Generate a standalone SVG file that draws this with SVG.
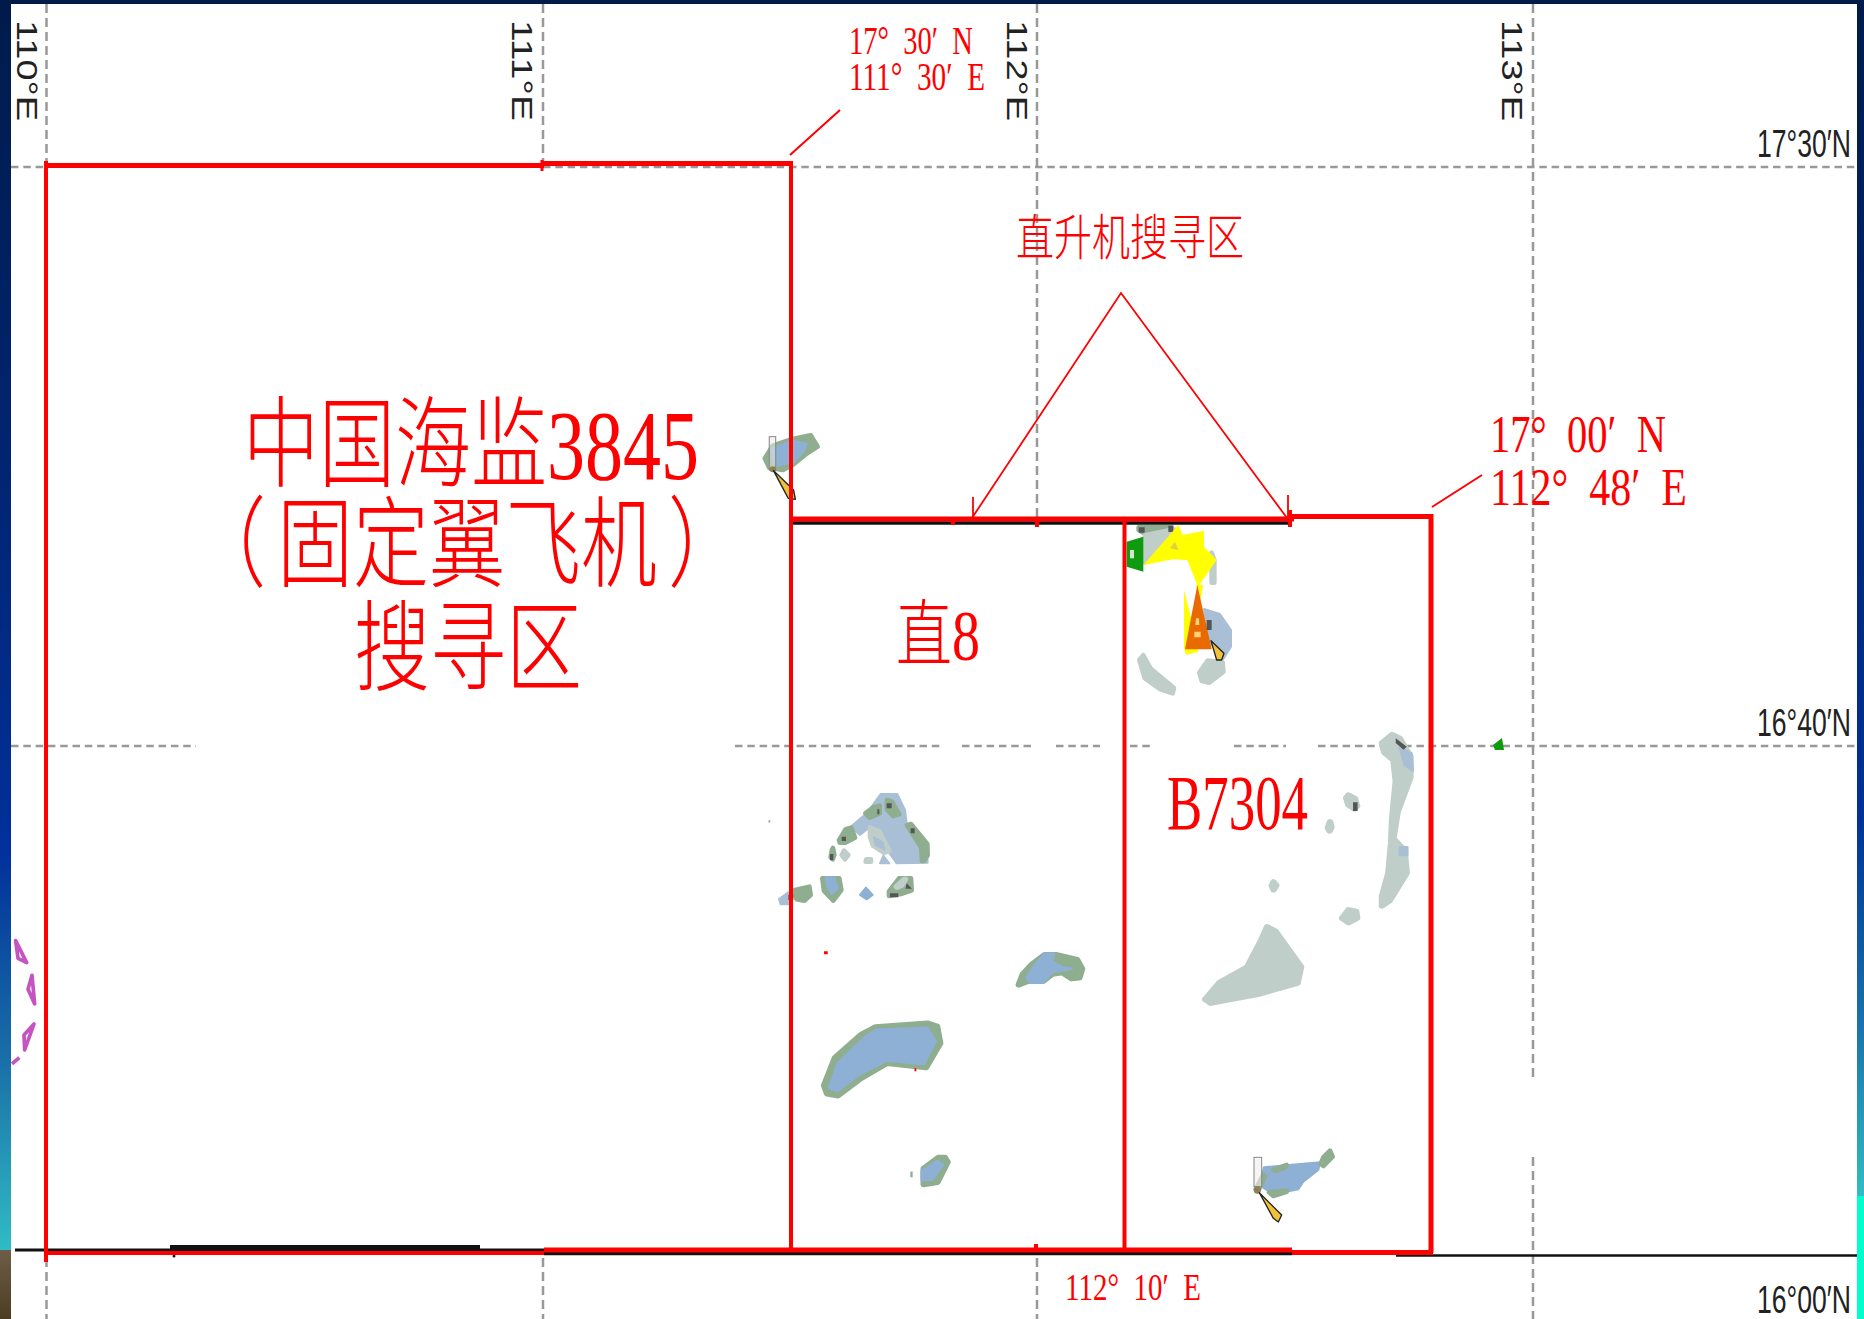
<svg xmlns="http://www.w3.org/2000/svg" width="1864" height="1319" viewBox="0 0 1864 1319">
<defs>
<linearGradient id="barL" x1="0" y1="0" x2="0" y2="1"><stop offset="0" stop-color="#001a4a"/><stop offset=".35" stop-color="#00246e"/><stop offset=".68" stop-color="#00309a"/><stop offset=".85" stop-color="#1a70a8"/><stop offset="1" stop-color="#30bcc4"/></linearGradient>
<linearGradient id="barB" x1="0" y1="0" x2="0" y2="1"><stop offset="0" stop-color="#6e5e48"/><stop offset="1" stop-color="#4c3c24"/></linearGradient>
</defs>
<style>
.gh{stroke:#999;stroke-width:2.5;stroke-dasharray:7.5 4.8;fill:none}
.gv{stroke:#999;stroke-width:2.5;stroke-dasharray:9 5;fill:none}
.red{stroke:#f00;fill:none}
.lab{font-family:"Liberation Sans",Arial,sans-serif;fill:#222}
.t{font-family:"Liberation Serif","Noto Sans CJK SC",serif;fill:#f00;font-weight:300}
.g,.b,.a,.p{stroke-linejoin:round}
.g,.p{stroke-width:14}
.b,.a{stroke-width:6}
.g{fill:#8fae8f;stroke:#8fae8f}
.b{fill:#8db0d4;stroke:#8db0d4}
.a{fill:#a9bfd6;stroke:#a9bfd6}
.p{fill:#c0ceca;stroke:#c0ceca}
.d{fill:#555}
.n{fill:#f0c23c;stroke:#222;stroke-width:4;stroke-linejoin:round}
.h{fill:#eee;stroke:#888;stroke-width:3}
</style>
<rect width="1864" height="1319" fill="#fff"/>
<rect x="0" y="0" width="11" height="1250" fill="url(#barL)"/>
<rect x="0" y="1250" width="11" height="69" fill="url(#barB)"/>
<rect x="1857" y="0" width="7" height="1196" fill="url(#barL)"/>
<rect x="1857" y="1196" width="7" height="123" fill="#00ffcc"/>
<rect x="0" y="0" width="1864" height="4" fill="#001a4a"/>
<g id="grid">
<path class="gh" d="M11 167H46M543 167H1857M11 746H196M735 746H940M962 746H1033M1056 746H1100M1130 746H1150M1234 746H1286M1318 746H1857"/>
<path class="gv" d="M46.500 4V165M46.500 1258V1319M543 4V165M543 1258V1319M1037 4V519M1037 1258V1319M1533 4V1081M1533 1157V1319"/>
</g>
<g id="islands">
<g id="cluster" transform="translate(770 780) scale(.3333)">
<path class="a" d="M332 42H382L405 90L410 130L470 190L473 248L380 250L355 215L325 160L295 145L270 165L242 140L290 100Z"/>
<path class="p" d="M300 142L328 154L358 212L343 219L309 197L300 170Z"/>
<path class="a" d="M312 172L338 187L343 208L317 195Z"/>
<path class="g" d="M351 60L366 65L388 103L369 108L351 88ZM286 100L310 82L329 77L329 100L299 113ZM411 136L423 132L472 192L473 226L462 243L456 243L454 203ZM207 181L227 148L244 143L255 173L226 188L209 188ZM186 209L189 204L193 225L188 238L182 232Z"/>
<path class="p" d="M222 212L235 225L225 238L215 225ZM289 238H303V245H287Z"/>
<path class="a" d="M340 228L358 250H330ZM27 357L55 337L65 373H32Z"/>
<path class="g" d="M72 331L118 320L122 345L103 362L80 358L72 340ZM157 295H208L214 330L190 362L162 333ZM357 334L387 295H423L425 331L393 342L357 348Z"/>
<path class="b" d="M167 292H193L203 325L185 343L172 320ZM288 323L308 345L290 358L270 345Z"/>
<path class="p" d="M377 320L402 297L408 297L397 316L381 323Z"/>
<path class="d" d="M360 340H385V352H360ZM410 310L426 326H407ZM350 70H365V85H350ZM322 88H328V103H322ZM422 145H434V160H422ZM215 170H228V183H215ZM180 222H190V240H180ZM55 345H70V360H55Z"/>
</g>
<g transform="translate(740 720) scale(.4592 .3827)">
<path class="g" d="M607 692L616 664L636 638L664 613H688L734 626L745 650L739 674L722 676L702 660L680 664L660 683L627 683Z"/>
<path class="b" d="M624 673L642 640L664 610H683L680 630L700 645L722 650L712 653L680 658L660 687H632Z"/>
<path class="g" d="M183 955L207 882L265 821L295 802L408 792L429 800L436 845L405 908L320 897L263 937L213 982L190 977Z"/>
<path class="b" d="M194 962L213 897L272 828L297 809L408 804L426 840L400 900L320 890L258 928L212 970Z"/>
<path class="g" d="M400 1172L432 1143H446L452 1155L430 1208L400 1214Z"/>
<path class="b" d="M396 1177L430 1153L442 1162L418 1202H396Z"/>
<path class="p" d="M1420 38L1437 48L1460 95L1460 150L1432 240L1423 310L1447 340L1452 400L1415 472L1398 486L1398 460L1412 400L1418 320L1420 260L1428 160L1423 105L1403 85L1398 60Z"/>
<path class="a" d="M1437 72L1462 87L1465 132L1448 118ZM1437 332H1453V353H1437Z"/>
<path class="p" d="M1325 196L1339 205L1344 225L1338 232L1325 222L1320 203ZM1285 266L1288 280L1284 290L1280 282ZM1162 423L1168 432L1162 444L1158 432ZM1325 496L1342 500L1344 518L1325 530L1311 518ZM1148 540L1166 552L1222 645L1214 688L1128 717L1025 740L1013 730L1044 686L1104 646L1134 578Z"/>
<path class="d" d="M1335 215H1345V238H1335ZM1428 48L1452 70L1445 78L1428 60Z"/>
<path fill="#8fae8f" d="M371 1180H376V1195H371Z"/>
<path fill="#f00" d="M183 604H191V612H183ZM380 910H384V918H380Z"/>
<path fill="#8fae8f" d="M62 262H66V268H62Z"/>
</g>
<g id="shoal-nw" transform="translate(740 400) scale(.357 .3333)">
<path class="g" d="M70 175L92 137L147 117L198 106L217 140L188 160L148 194L120 210L82 203Z"/>
<path class="b" d="M88 147L145 121L187 132L178 155L150 188L100 198Z"/>
<rect class="h" x="82" y="110" width="18" height="100" fill-opacity=".5"/>
<circle cx="92" cy="208" r="9" fill="#8f8055"/>
<path class="n" d="M94 212L150 270L155 298L135 295Z"/>
</g>
<g id="shoal-n" transform="translate(1110 510) scale(.3333)">
<path class="g" d="M86 52H185L168 56L100 68L86 60Z"/>
<path class="p" d="M105 76L192 58L105 158ZM305 128L313 150V218H305Z"/>
<path class="d" d="M86 52H104V68H86ZM175 47H190V66H175Z"/>
<path fill="#0f9a0f" d="M50 95L100 80V185L50 170Z"/>
<path fill="#cfe8cf" d="M60 120H72V145H60Z"/>
<path class="a" d="M282 297L330 312L363 360L363 410L340 447L300 400Z"/>
<path class="p" d="M268 488L293 452L338 457L340 486L298 518L275 513ZM88 450L100 436L122 476L192 534L188 550L150 537L104 504Z"/>
<path fill="#ff0" d="M100 165L205 45L218 75L282 62V110L320 150L268 225L262 225L232 150L190 148ZM222 240L245 330L265 425L228 435L222 415Z"/>
<path fill="#ff0" d="M258 225H280L270 275Z"/>
<path fill="#e86a00" d="M262 225L305 418H225Z"/>
<path fill="#ffd27a" d="M253 365H272V382H253ZM258 325H267L268 345H256Z"/>
<path fill="#e0d040" d="M180 115L195 95L205 120Z"/>
<path class="d" d="M290 330H305V360H290Z"/>
<path class="n" d="M303 392L342 430L335 450L320 450Z"/>
</g>
<g id="shoal-s" transform="translate(1240 1140) scale(.3333)">
<path class="b" d="M72 82L240 67L235 90L190 125L175 148L100 163L58 135Z"/>
<path class="g" d="M100 90L140 75L135 82L112 92ZM87 157L140 152L140 155L100 168ZM250 52L270 32L278 50L250 78L242 72ZM47 148L70 104L75 110L57 148Z"/>
<rect class="h" x="42" y="52" width="23" height="88" fill-opacity=".6"/>
<circle cx="52" cy="150" r="11" fill="#8f8055"/>
<path class="n" d="M58 158L125 225L115 246L100 235Z"/>
</g>
<path fill="#0f9a0f" d="M1493 745L1502 738L1504 750H1495Z"/>
<g id="marks" transform="translate(0 900) scale(.3333)" fill="none" stroke="#c454c0" stroke-width="11" stroke-linejoin="round">
<path d="M47 122L80 188L54 175ZM96 226L104 312L84 268ZM102 372L74 450L72 405ZM36 492L58 473"/>
</g>
</g>
<g id="connectors">
<path d="M15 1250H170" stroke="#111" stroke-width="3" fill="none"/>
<path d="M170 1248.500H480" stroke="#111" stroke-width="7" fill="none"/>
<path d="M480 1250H544" stroke="#111" stroke-width="3" fill="none"/>
<path d="M544 1253.500H1292" stroke="#111" stroke-width="3.500" fill="none"/>
<path d="M1396 1255.500H1857" stroke="#111" stroke-width="2.500" fill="none"/>
<path d="M791 523H1292" stroke="#111" stroke-width="3.500" fill="none"/>
<circle cx="174" cy="1256" r="1.500" fill="#111"/>
<path class="red" stroke-width="4" d="M46 161V1262"/>
<path class="red" stroke-width="4" d="M46 1253H544"/>
<path class="red" stroke-width="5" d="M46 165.500H544"/>
<path class="red" stroke-width="5" d="M542 163.500H791"/>
<path class="red" stroke-width="3" d="M542 160V171"/>
<path class="red" stroke-width="4" d="M791 161V1250"/>
<path class="red" stroke-width="5" d="M791 519H1294"/>
<path class="red" stroke-width="5" d="M1288 516.500H1433"/>
<path class="red" stroke-width="4" d="M953 518V525M1037 518V527M1036 1244V1250M1290 510V527"/>
<path class="red" stroke-width="4" d="M1124.500 519V1250"/>
<path class="red" stroke-width="5" d="M1431 514V1253"/>
<path class="red" stroke-width="5" d="M544 1250H1292"/>
<path class="red" stroke-width="5" d="M1292 1252.500H1433"/>
<path class="red" stroke-width="2" d="M790 155L840 110M1432 507L1482 475"/>
<path class="red" stroke-width="1.800" d="M972 518L1121 293L1287 518M973 497V518M1288 495V518"/>
</g>
<g id="labels">
<text class="lab" transform="translate(17 20) rotate(90)" font-size="30" textLength="101" lengthAdjust="spacingAndGlyphs">110°E</text>
<text class="lab" transform="translate(512 20) rotate(90)" font-size="30" textLength="101" lengthAdjust="spacingAndGlyphs">111°E</text>
<text class="lab" transform="translate(1007 20) rotate(90)" font-size="30" textLength="101" lengthAdjust="spacingAndGlyphs">112°E</text>
<text class="lab" transform="translate(1502 20) rotate(90)" font-size="30" textLength="101" lengthAdjust="spacingAndGlyphs">113°E</text>
<text class="lab" transform="translate(1757 157) scale(.7 1)" font-size="38">17°30′N</text>
<text class="lab" transform="translate(1757 736) scale(.7 1)" font-size="38">16°40′N</text>
<text class="lab" transform="translate(1757 1313) scale(.7 1)" font-size="38">16°00′N</text>
<text class="t" x="849" y="54" font-size="39" textLength="124" lengthAdjust="spacingAndGlyphs">17°&#160;&#160;30′&#160;&#160;N</text>
<text class="t" x="849" y="90" font-size="39" textLength="136" lengthAdjust="spacingAndGlyphs">111°&#160;&#160;30′&#160;&#160;E</text>
<text class="t" x="1490" y="452" font-size="53" textLength="176" lengthAdjust="spacingAndGlyphs">17°&#160;&#160;00′&#160;&#160;N</text>
<text class="t" x="1490" y="505" font-size="53" textLength="197" lengthAdjust="spacingAndGlyphs">112°&#160;&#160;48′&#160;&#160;E</text>
<text class="t" x="1065" y="1300" font-size="38" textLength="136" lengthAdjust="spacingAndGlyphs">112°&#160;&#160;10′&#160;&#160;E</text>
<text class="t" x="1167" y="829" font-size="78" textLength="141" lengthAdjust="spacingAndGlyphs">B7304</text>
<text class="t" transform="translate(243 479) scale(1 1.3)" font-size="76">中国海监3845</text>
<text class="t" transform="translate(0 579) scale(1 1.3)" font-size="76"><tspan x="190">（</tspan><tspan x="277">固定翼飞机</tspan><tspan x="668">）</tspan></text>
<text class="t" text-anchor="middle" transform="translate(468 683) scale(1 1.3)" font-size="76">搜寻区</text>
<text class="t" text-anchor="middle" transform="translate(1130 255) scale(1 1.3)" font-size="38">直升机搜寻区</text>
<text class="t" transform="translate(896 660) scale(1 1.3)" font-size="56">直8</text>
</g>
</svg>
